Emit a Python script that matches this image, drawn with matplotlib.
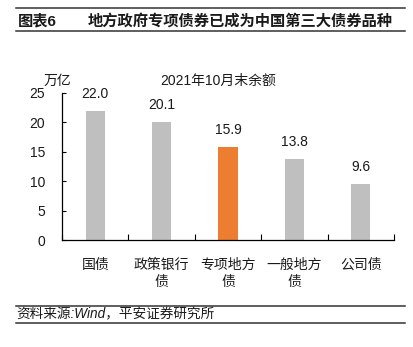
import matplotlib
matplotlib.use("Agg")
import matplotlib.pyplot as plt
from matplotlib.lines import Line2D

plt.rcParams['font.family'] = ['Liberation Sans', 'Noto Sans CJK SC', 'DejaVu Sans']

categories = ["国债", "政策银行\n债", "专项地方\n债", "一般地方\n债", "公司债"]
values = [22.0, 20.1, 15.9, 13.8, 9.6]
highlight = "专项地方\n债"
yticks = [0, 5, 10, 15, 20, 25]

title_num = "图表6"
title_text = "地方政府专项债券已成为中国第三大债券品种"
subtitle = "2021年10月末余额"
unit = "万亿"
source = "资料来源:Wind，平安证券研究所"

gray = "#BFBFBF"
orange = "#ED7D31"
text_color = "#1a1a1a"

W, H = 414, 347
fig = plt.figure(figsize=(W / 100, H / 100), dpi=100)

ax = fig.add_axes([62 / W, 1 - 240 / H, (394 - 62) / W, (240 - 93) / H])
x = list(range(len(categories)))
colors = [orange if c == highlight else gray for c in categories]
ax.bar(x, values, width=0.29, color=colors, zorder=2)

for xi, v in zip(x, values):
    ax.annotate(f"{v:.1f}", (xi, v), xytext=(0, 12.2), textcoords="offset points",
                ha="center", va="center", fontsize=10, color=text_color)

ax.set_xlim(-0.5, len(categories) - 0.5)
ax.set_ylim(0, 25)
ax.set_yticks(yticks)
ax.set_xticks(x)
ax.set_xticklabels(categories, fontsize=10, color=text_color, linespacing=1.3)
ax.set_xticks([i - 0.5 for i in range(len(categories) + 1)], minor=True)
ax.tick_params(axis="x", which="major", length=0, pad=13)
ax.tick_params(axis="x", which="minor", direction="in", length=4, width=0.8, color="black")
ax.tick_params(axis="y", direction="in", length=3, width=0.8, pad=12,
               labelsize=10, labelcolor=text_color)
for s in ("top", "right"):
    ax.spines[s].set_visible(False)
for s in ("left", "bottom"):
    ax.spines[s].set_linewidth(0.9)
    ax.spines[s].set_color("black")

fig.text(57 / W, 1 - 81 / H, unit, ha="center", va="center", fontsize=10, color=text_color)
fig.text(218 / W, 1 - 81 / H, subtitle, ha="center", va="center", fontsize=10, color=text_color)

# Header and footer rules
for y in (8, 31, 305.5, 323):
    fig.add_artist(Line2D([16 / W, 405 / W], [1 - y / H, 1 - y / H],
                          color="#333333", linewidth=1.1))

fig.text(18 / W, 1 - 21 / H, title_num, ha="left", va="center", fontsize=11,
         fontweight="bold", color=text_color)
fig.text(88 / W, 1 - 21 / H, title_text, ha="left", va="center", fontsize=11,
         fontweight="bold", color=text_color)
fig.text(16 / W, 1 - 314.5 / H, source, ha="left", va="center", fontsize=9.8,
         style="italic", color=text_color)

fig.savefig("out.png", dpi=100)
